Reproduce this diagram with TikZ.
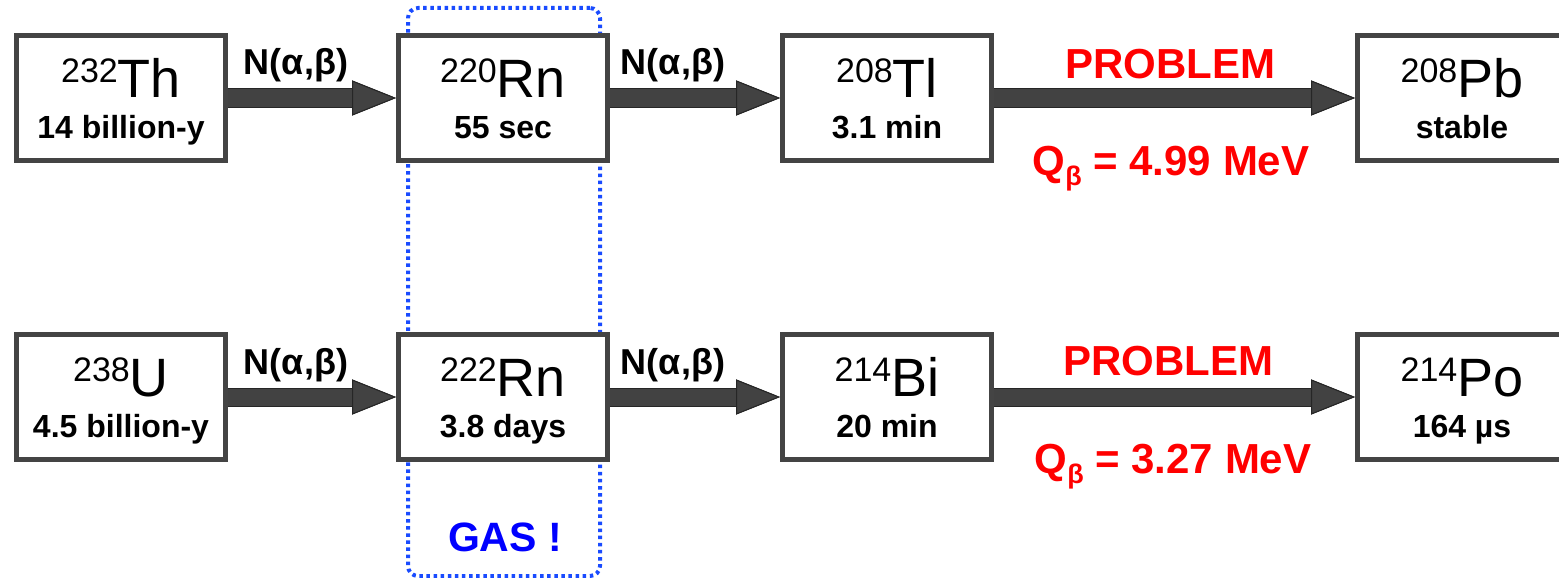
\documentclass[tikz,border=0pt]{standalone}
\usepackage{fontspec}
\setmainfont{Liberation Sans}
\usetikzlibrary{arrows.meta}
\definecolor{boxgray}{RGB}{68,68,68}
\definecolor{arrgray}{RGB}{66,66,66}
\definecolor{dotblue}{RGB}{25,75,255}
\definecolor{txtred}{RGB}{255,0,0}
\definecolor{txtblue}{RGB}{0,0,255}
\newcommand\nucl[6]{%
  \node[nucbox] (#1) at (#2,#3) {};
  \node[symtext] (#1-s) at (#2,{#3-1}) {\raisebox{15pt}{\fontsize{34}{34}\selectfont #4}#5};
  \node[lifetext] (#1-l) at (#2,{#3+40}) {#6};
}
\tikzset{
  nucbox/.style={draw=boxgray, line width=5pt, fill=white, minimum width=209pt, minimum height=125pt, inner sep=0pt},
  symtext/.style={anchor=base, inner sep=0pt, font=\fontsize{54}{54}\selectfont},
  lifetext/.style={anchor=base, inner sep=0pt, font=\bfseries\fontsize{32}{32}\selectfont},
  bigarrow/.style={line width=17pt, arrgray, -{Triangle[length=44pt,width=35pt,line width=1pt,color=black!85,fill=arrgray]},
    preaction={draw=black!85, line width=19pt}},
  nlabel/.style={anchor=base, inner sep=0pt, font=\bfseries\fontsize{36}{36}\selectfont},
  redlabel/.style={anchor=base, inner sep=0pt, text=txtred, font=\bfseries\fontsize{42}{42}\selectfont},
  gasframe/.style={draw=dotblue, line width=4pt, dash pattern=on 3.5pt off 3.6pt, rounded corners=10pt, minimum width=192pt, minimum height=568pt, inner sep=0pt},
}
\begin{document}
\begin{tikzpicture}[x=1pt,y=-1pt]
\useasboundingbox (0,0) rectangle (1559,578);
\fill[white] (0,0) rectangle (1559,578);
\node[gasframe] (gas) at (504,292) {};
\nucl{th}{121}{98}{232}{Th}{14 billion-y}
\nucl{rnA}{503}{98}{220}{Rn}{55 sec}
\nucl{tl}{887}{98}{208}{Tl}{3.1 min}
\nucl{pb}{1462}{98}{208}{Pb}{stable}
\nucl{u}{121}{397}{238}{U}{4.5 billion-y}
\nucl{rnB}{503}{397}{222}{Rn}{3.8 days}
\nucl{bi}{887}{397}{214}{Bi}{20 min}
\nucl{po}{1462}{397}{214}{Po}{164 µs}
\draw[bigarrow] (th.east) -- (rnA.west);
\draw[bigarrow] (rnA.east) -- (tl.west);
\draw[bigarrow] (tl.east) -- (pb.west);
\draw[bigarrow] (u.east) -- (rnB.west);
\draw[bigarrow] (rnB.east) -- (bi.west);
\draw[bigarrow] (bi.east) -- (po.west);
\node[nlabel] (n1) at (296,75) {N(α,β)};
\node[nlabel] (n2) at (673,75) {N(α,β)};
\node[nlabel] (n3) at (296,374) {N(α,β)};
\node[nlabel] (n4) at (673,374) {N(α,β)};
\node[redlabel] (p1) at (1170,78) {PROBLEM};
\node[redlabel] (q1) at (1171,175) {Q\raisebox{-10pt}{\fontsize{27}{27}\selectfont β} = 4.99 MeV};
\node[redlabel] (p2) at (1168,375) {PROBLEM};
\node[redlabel] (q2) at (1173,473) {Q\raisebox{-10pt}{\fontsize{27}{27}\selectfont β} = 3.27 MeV};
\node[anchor=base, inner sep=0pt, text=txtblue, font=\bfseries\fontsize{41}{41}\selectfont] (gastxt) at (505,551) {GAS !};
\end{tikzpicture}
\end{document}
